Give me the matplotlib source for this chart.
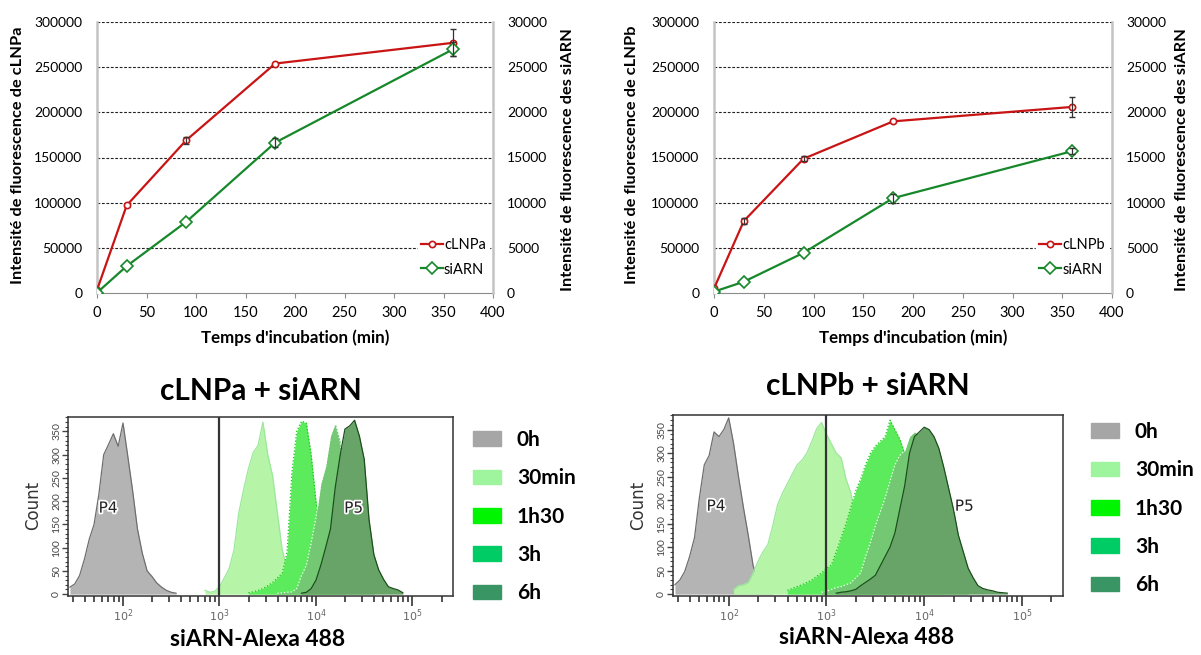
import numpy as np
import matplotlib
matplotlib.use("Agg")
import matplotlib.pyplot as plt
import matplotlib.patheffects as pe
from matplotlib.patches import Patch
from matplotlib.lines import Line2D
from matplotlib.ticker import FixedLocator, LogLocator, MultipleLocator, NullFormatter

plt.rcParams["font.family"] = ["Lato", "DejaVu Sans"]

W, H = 1201, 655

# ─── cinétique d'internalisation ───────────────────────────────
temps = [0, 30, 90, 180, 360]
clnpa = [3300, 97000, 169000, 254000, 277000]
clnpa_err = [0, 0, 4000, 0, 15000]
sirna_a = [30, 2980, 7870, 16650, 27000]
sirna_a_err = [0, 0, 0, 500, 800]
clnpb = [5000, 79700, 148600, 190000, 206000]
clnpb_err = [0, 3000, 3000, 0, 11000]
sirna_b = [150, 1250, 4450, 10500, 15700]
sirna_b_err = [0, 0, 0, 500, 300]

# ─── cytométrie : (début log10, comptes), pas de 0.05 décade ───
pas_log = 0.05
temps_cyto = ["0h", "30min", "1h30", "3h", "6h"]
a_0h = (1.45, [15, 22, 40, 75, 118, 150, 215, 300, 322, 345, 318, 368, 296, 222,
               140, 88, 50, 38, 24, 15, 8, 4, 2])
a_30 = (2.85, [8, 4, 6, 16, 35, 55, 95, 175, 225, 270, 305, 320, 370, 300, 255, 175,
               95, 55, 30, 15, 6, 2])
a_1h30 = (3.30, [3, 5, 8, 12, 18, 25, 35, 45, 90, 260, 350, 372, 368, 300, 200, 130,
                 80, 45, 20, 8, 3])
a_3h = (3.60, [2, 3, 4, 5, 12, 40, 62, 110, 165, 238, 275, 340, 368, 330, 250, 170,
               110, 60, 30, 12, 5])
a_6h = (3.85, [2, 4, 12, 30, 62, 100, 140, 230, 298, 355, 362, 374, 340, 290, 160, 85,
               52, 32, 16, 12, 9, 3])
b_0h = (1.45, [20, 30, 48, 80, 120, 205, 275, 295, 345, 335, 350, 375, 320, 250, 185,
               125, 60, 30, 15, 8, 4])
b_30 = (2.05, [10, 18, 20, 25, 45, 70, 90, 105, 145, 190, 215, 235, 255, 275, 285, 300,
               325, 352, 365, 340, 320, 300, 290, 245, 215, 160, 110, 70, 40, 22, 10, 4])
b_1h30 = (2.60, [8, 12, 16, 20, 25, 30, 38, 45, 55, 62, 90, 120, 150, 185, 220, 245, 275,
                 300, 315, 325, 335, 370, 350, 330, 300, 260, 210, 160, 110, 70, 40, 20, 8])
b_3h = (2.95, [4, 6, 10, 14, 16, 20, 24, 35, 45, 80, 110, 145, 175, 205, 240, 275, 295,
               305, 335, 345, 340, 320, 290, 250, 200, 150, 100, 60, 30, 15, 5])
b_6h = (3.10, [2, 4, 5, 7, 10, 18, 25, 32, 40, 60, 80, 100, 130, 180, 230, 300, 335, 345,
               355, 350, 335, 310, 270, 225, 180, 125, 90, 55, 35, 18, 12, 9, 7, 4, 3, 2])

ROUGE = "#C81414"
VERT = "#16882A"
legende_cyto = ["#A6A6A6", "#9EF59E", "#00F500", "#00CC66", "#3A9565"]
remplis = ["#B4B4B4", "#B6F5A8", "#5CEB5C", "#74C874", "#68A468"]
contours = ["#6E6E6E", "#9BE89B", "#10C810", "#FFFFFF", "#1B4F1B"]
traits = ["-", "-", ":", ":", "-"]


def boite(x0, x1, y0, y1):
    return [x0 / W, 1 - y1 / H, (x1 - x0) / W, (y1 - y0) / H]


fig = plt.figure(figsize=(W / 100, H / 100), dpi=100)


def cinetique(rect, rouge, rouge_err, vert, vert_err, nom, lab_g, xg, xd):
    ax = fig.add_axes(rect)
    ax2 = ax.twinx()
    ax.set_xlim(0, 400)
    ax.set_ylim(0, 300000)
    ax2.set_ylim(0, 30000)
    ax.set_xticks(range(0, 401, 50))
    ax.set_yticks(range(0, 300001, 50000))
    ax2.set_yticks(range(0, 30001, 5000))
    for y in ax.get_yticks()[1:]:
        ax.axhline(y, color="#222222", lw=0.8, ls=(0, (2.5, 1.5)), zorder=0)

    for a in (ax, ax2):
        a.spines["top"].set_visible(False)
    ax.spines["right"].set_visible(False)
    ax2.spines["left"].set_visible(False)
    ax2.spines["bottom"].set_visible(False)
    ax.spines["left"].set_color("#C4C4C4")
    ax.spines["left"].set_linewidth(1.8)
    ax2.spines["right"].set_color("#C4C4C4")
    ax2.spines["right"].set_linewidth(1.8)
    ax.spines["bottom"].set_color("#8C8C8C")
    ax.tick_params(axis="y", length=0, pad=10.5, labelsize=10)
    ax.tick_params(axis="x", length=3.6, color="#8C8C8C", pad=6, labelsize=10.5)
    ax2.tick_params(axis="y", length=0, pad=10, labelsize=10)

    ax.plot(temps, rouge, color=ROUGE, lw=1.6, marker="o", ms=4.5, mfc="white",
            mew=1.2, zorder=3)
    ax2.plot(temps, vert, color=VERT, lw=1.6, marker="D", ms=6, mfc="white",
             mew=1.2, zorder=3)
    i = [k for k, e in enumerate(rouge_err) if e]
    ax.errorbar([temps[k] for k in i], [rouge[k] for k in i],
                yerr=[rouge_err[k] for k in i], fmt="none", ecolor="#333333",
                elinewidth=0.9, capsize=2.5, zorder=4)
    j = [k for k, e in enumerate(vert_err) if e]
    ax2.errorbar([temps[k] for k in j], [vert[k] for k in j],
                 yerr=[vert_err[k] for k in j], fmt="none", ecolor="#333333",
                 elinewidth=0.9, capsize=2.5, zorder=4)

    poignees = [Line2D([], [], color=ROUGE, lw=1.6, marker="o", ms=4.5, mfc="white", mew=1.2),
                Line2D([], [], color=VERT, lw=1.6, marker="D", ms=6, mfc="white", mew=1.2)]
    leg = ax2.legend(poignees, [nom, "siARN"], loc="upper left",
                     bbox_to_anchor=(0.81, 0.215), frameon=True, fontsize=10.5,
                     handlelength=1.5, handletextpad=0.1, labelspacing=0.75,
                     borderpad=0.2, borderaxespad=0)
    leg.get_frame().set_facecolor("white")
    leg.get_frame().set_edgecolor("white")
    leg.get_frame().set_alpha(1)

    xc = (rect[0] + rect[2] / 2) * W
    fig.text(xc / W, 1 - 338 / H, "Temps d'incubation (min)", ha="center",
             va="center", fontsize=12.2, weight="bold")
    fig.text(xg / W, 1 - 155 / H, lab_g, rotation=90, ha="center", va="center",
             fontsize=11.8, weight="bold")
    fig.text(xd / W, 1 - 160 / H, "Intensité de fluorescence des siARN", rotation=90,
             ha="center", va="center", fontsize=11.8, weight="bold")


cinetique(boite(97, 493, 22, 293), clnpa, clnpa_err, sirna_a, sirna_a_err, "cLNPa",
          "Intensité de fluorescence de cLNPa", 18, 568)
cinetique(boite(714, 1112, 22, 293), clnpb, clnpb_err, sirna_b, sirna_b_err, "cLNPb",
          "Intensité de fluorescence de cLNPb", 632, 1182)


def histo(rect, series, titre, pos_titre, pos_xlab, x_count, p4, p5, pos_leg):
    ax = fig.add_axes(rect)
    ax.set_xscale("log")
    ax.set_xlim(10 ** 1.43, 10 ** 5.42)
    ax.set_ylim(-4, 381)
    for z, ((debut, comptes), fc, ec, ls) in enumerate(zip(series, remplis, contours, traits)):
        x = 10 ** (debut + pas_log * np.arange(len(comptes)))
        ax.fill_between(x, comptes, 0, color=fc, lw=0, zorder=2 + z)
        ax.plot(x, comptes, color=ec, lw=0.9, ls=ls, zorder=2.5 + z)
    ax.axvline(1e3, color="#333333", lw=1.6, zorder=10)

    for s in ax.spines.values():
        s.set_color("#333333")
        s.set_linewidth(1.1)
    ax.xaxis.set_major_locator(FixedLocator([1e2, 1e3, 1e4, 1e5]))
    ax.xaxis.set_minor_locator(LogLocator(base=10, subs=np.arange(2, 10)))
    ax.xaxis.set_minor_formatter(NullFormatter())
    ax.set_xticklabels(["$10^2$", "$10^3$", "$10^4$", "$10^5$"])
    ax.tick_params(axis="x", which="major", length=7, width=1.3, color="#444444",
                   labelsize=8, labelcolor="#666666", pad=1)
    ax.tick_params(axis="x", which="minor", length=4, width=1.3, color="#444444")
    ax.yaxis.set_major_locator(MultipleLocator(50))
    ax.yaxis.set_minor_locator(MultipleLocator(10))
    ax.set_yticks(range(0, 351, 50))
    ax.tick_params(axis="y", which="major", length=4, width=1, color="#444444",
                   labelsize=7.5, labelcolor="#444444", pad=1, labelrotation=90)
    ax.tick_params(axis="y", which="minor", length=2.5, width=0.8, color="#444444")
    for t in ax.get_yticklabels():
        t.set_va("center")

    contour = [pe.withStroke(linewidth=2.5, foreground="white")]
    ax.text(10 ** p4[0], p4[1], "P4", fontsize=11, color="#222222", ha="center",
            va="center", path_effects=contour, zorder=12, family="DejaVu Sans")
    ax.text(10 ** p5[0], p5[1], "P5", fontsize=11, color="#222222", ha="center",
            va="center", path_effects=contour, zorder=12, family="DejaVu Sans")

    fig.text(pos_titre[0] / W, 1 - pos_titre[1] / H, titre, ha="center", va="center",
             fontsize=21.5, weight="bold")
    fig.text(pos_xlab[0] / W, 1 - pos_xlab[1] / H, "siARN-Alexa 488", ha="center",
             va="center", fontsize=16.5, weight="bold")
    fig.text(x_count / W, 1 - 505 / H, "Count", rotation=90, ha="center", va="center",
             fontsize=12, color="#333333", family="DejaVu Sans")

    poignees = [Patch(facecolor=c, edgecolor=c) for c in legende_cyto]
    fig.legend(poignees, temps_cyto, loc="upper left",
               bbox_to_anchor=(pos_leg[0] / W, 1 - pos_leg[1] / H), frameon=False,
               prop={"weight": "bold", "size": 15}, handlelength=1.35,
               handleheight=0.72, handletextpad=0.75, labelspacing=0.88,
               borderpad=0, borderaxespad=0)


histo(boite(68, 453, 417, 596), [a_0h, a_30, a_1h30, a_3h, a_6h], "cLNPa + siARN",
      (261, 391), (258, 640), 33, (1.845, 185), (4.39, 185), (473, 430))
histo(boite(673, 1063, 415, 596), [b_0h, b_30, b_1h30, b_3h, b_6h], "cLNPb + siARN",
      (868, 386), (867, 637), 638, (1.87, 187), (4.41, 187), (1091, 422))

fig.savefig("out.png", dpi=100, facecolor="white")
